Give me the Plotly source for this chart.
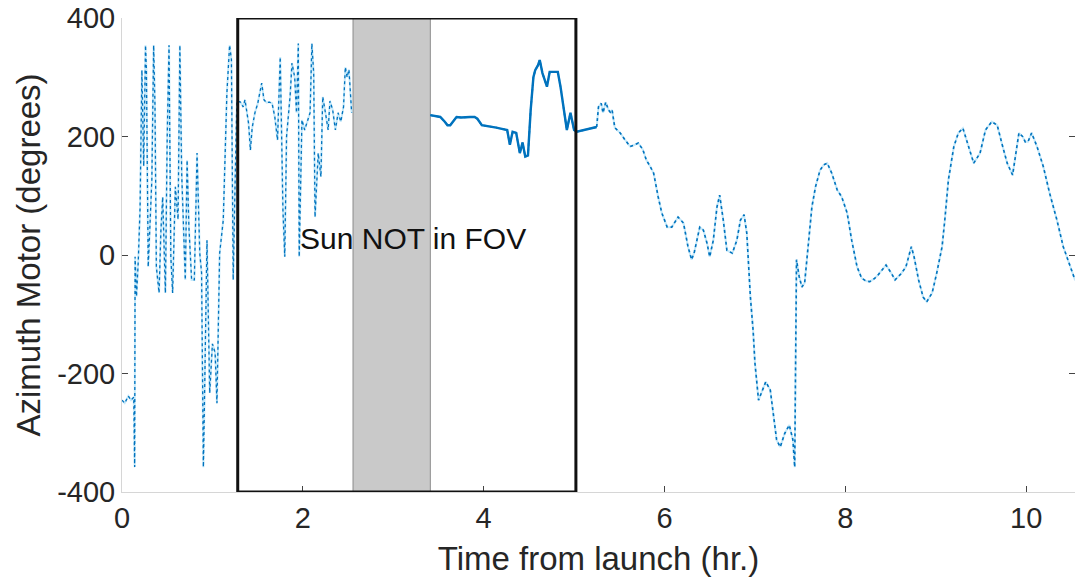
import plotly.graph_objects as go

# Azimuth motor angle vs. time from launch (hours), three recorded stretches
t_early = [0.00, 0.03, 0.07, 0.10, 0.13, 0.14, 0.145, 0.16, 0.18, 0.20, 0.22, 0.24, 0.26, 0.27,
           0.29, 0.31, 0.33, 0.35, 0.365, 0.38, 0.41, 0.43, 0.45, 0.48, 0.50, 0.52, 0.54, 0.56,
           0.59, 0.62, 0.64, 0.66, 0.70, 0.72, 0.74, 0.77, 0.80, 0.83, 0.86, 0.88, 0.90, 0.91,
           0.94, 0.97, 1.00, 1.03, 1.05, 1.08, 1.12, 1.16, 1.19, 1.21, 1.23, 1.25, 1.27,
           1.31, 1.34, 1.36, 1.40, 1.42, 1.44, 1.47, 1.50, 1.545, 1.57, 1.60, 1.63, 1.66,
           1.69, 1.72, 1.75, 1.78, 1.80, 1.82, 1.86, 1.88, 1.91, 1.93, 1.95, 1.96, 1.99,
           2.02, 2.05, 2.08, 2.10, 2.12, 2.135, 2.17, 2.20, 2.22, 2.25, 2.28, 2.30, 2.33,
           2.36, 2.39, 2.42, 2.45, 2.47, 2.49, 2.51, 2.54]
az_early = [-245, -250, -238, -245, -240, -358, -3, -70, -10, 80, 312, 150, 354, 312,
            -20, 59, 127, 354, 250, -20, -64, 40, 98, -64, 200, 354, -3, -64,
            115, 60, 354, 138, -42, 160, 47, -42, -42, 172, 3, -30, -358, -267,
            25, -233, -150, -165, -250, 3, 59, 273, 354, 330, -42, 115, 260,
            258, 250, 262, 222, 177, 215, 240, 255, 290, 262, 257, 258, 256,
            233, 194, 334, 76, -3, 200, 270, 324, 300, 240, 357, -3, 228,
            211, 225, 240, 357, 307, 64, 172, 132, 267, 240, 211, 260, 245,
            211, 240, 225, 250, 317, 300, 313, 240]

t_mid = [3.41, 3.46, 3.52, 3.57, 3.60, 3.63, 3.66, 3.70, 3.75, 3.80, 3.85, 3.90, 3.93,
         3.98, 4.03, 4.08, 4.14, 4.20, 4.26, 4.29, 4.32, 4.36, 4.40, 4.43, 4.46, 4.49,
         4.52, 4.55, 4.57, 4.60, 4.62, 4.65, 4.68, 4.70, 4.73, 4.77, 4.82, 4.85, 4.88,
         4.92, 4.96, 5.00, 5.03, 5.08, 5.13, 5.18, 5.22, 5.25]
az_mid = [236, 235, 233, 225, 219, 219, 225, 233, 232, 233, 233, 233, 230,
          219, 218, 216, 215, 213, 211, 186, 208, 206, 172, 190, 166, 168,
          245, 300, 312, 320, 329, 307, 295, 284, 309, 309, 309, 284, 250,
          211, 240, 211, 208, 210, 212, 214, 215, 216]

t_late = [5.25, 5.27, 5.30, 5.32, 5.35, 5.38, 5.40, 5.42,
          5.45, 5.51, 5.56, 5.62, 5.67, 5.71, 5.76, 5.80, 5.84, 5.88, 5.93, 5.97, 6.03,
          6.08, 6.15, 6.21, 6.26, 6.30, 6.33, 6.36, 6.39, 6.43, 6.47, 6.50, 6.54, 6.58,
          6.61, 6.65, 6.69, 6.75, 6.80, 6.84, 6.88, 6.91, 6.95, 6.98, 7.00, 7.04, 7.07,
          7.12, 7.17, 7.20, 7.24, 7.28, 7.33, 7.38, 7.42, 7.44, 7.46, 7.49, 7.52, 7.55,
          7.59, 7.63, 7.67, 7.72, 7.76, 7.80, 7.85, 7.91, 7.96, 8.02, 8.07, 8.13, 8.18,
          8.23, 8.27, 8.32, 8.36, 8.41, 8.45, 8.51, 8.55, 8.62, 8.67, 8.73, 8.76, 8.81,
          8.86, 8.90, 8.96, 9.01, 9.07, 9.10, 9.14, 9.20, 9.25, 9.30, 9.35, 9.42, 9.49,
          9.55, 9.62, 9.68, 9.73, 9.79, 9.85, 9.88, 9.92, 9.96, 9.99, 10.02, 10.06,
          10.12, 10.19, 10.26, 10.34, 10.41, 10.49, 10.54]
az_late = [216, 250, 256, 240, 258, 245, 241, 245,
           215, 206, 195, 183, 186, 189, 178, 160, 150, 138, 98, 71, 47,
           47, 64, 54, 14, -8, 5, 25, 47, 42, 20, -3, 25, 81,
           101, 59, 8, 3, 25, 59, 68, 37, -71, -127, -182, -245, -233,
           -214, -228, -267, -312, -324, -301, -287, -312, -358, -8, -37, -54, -47,
           14, 81, 115, 143, 152, 155, 138, 110, 98, 71, 25, -20, -39,
           -44, -45, -40, -34, -24, -17, -31, -42, -31, -20, 14, -3, -42,
           -71, -79, -64, -31, 14, 59, 127, 183, 206, 214, 189, 155, 172,
           211, 225, 219, 189, 155, 135, 166, 206, 200, 191, 191, 206,
           183, 149, 104, 59, 14, -20, -42]

x_ticks = [0, 2, 4, 6, 8, 10]
x_tick_text = ["0", "2", "4", "6", "8", "10"]
y_ticks = [-400, -200, 0, 200, 400]
y_tick_text = ["-400", "-200", "0", "200", "400"]

# Window where the sun was outside the field of view, and the marked interval
fov_window = (1.28, 5.02)
shade_window = (2.555, 3.41)
note_text = "Sun NOT in FOV"

FONT = "Liberation Sans, Arial, sans-serif"
BLUE = "#0072BD"
PALE = "rgba(150, 215, 245, 0.55)"

fig = go.Figure()

segments = [(t_early, az_early, 1.3), (t_mid, az_mid, 1.6), (t_late, az_late, 1.6)]
for t, az, w in segments:
    # pale underlay so the sparse samples read as a continuous trace
    fig.add_trace(go.Scatter(x=t, y=az, mode="lines",
                             line=dict(color=PALE, width=2),
                             hoverinfo="skip", showlegend=False))
    fig.add_trace(go.Scatter(x=t, y=az, mode="lines",
                             line=dict(color=BLUE, width=w, dash="dot"),
                             showlegend=False))

# denser, steadier stretch after the gap
fig.add_trace(go.Scatter(x=t_mid, y=az_mid, mode="lines",
                         line=dict(color=BLUE, width=2.4),
                         showlegend=False))

fig.add_shape(type="rect", xref="x", yref="y",
              x0=shade_window[0], x1=shade_window[1], y0=-400, y1=400,
              fillcolor="#c9c9c9", line=dict(color="#8c8c8c", width=1),
              layer="below")
fig.add_shape(type="rect", xref="x", yref="y",
              x0=fov_window[0], x1=fov_window[1], y0=-400, y1=400,
              fillcolor="rgba(0,0,0,0)", line=dict(color="#111111", width=3),
              layer="above")

fig.add_annotation(x=1.95, y=28, xref="x", yref="y", text=note_text,
                   showarrow=False, xanchor="left", yanchor="middle",
                   font=dict(family=FONT, size=30, color="#111111"))

axis_common = dict(
    showgrid=False, zeroline=False,
    showline=True, linecolor="#d6d6d6", linewidth=1,
    ticks="inside", ticklen=6, tickcolor="#444444", tickwidth=1,
    tickfont=dict(family=FONT, size=29, color="#262626"),
)

fig.update_xaxes(range=[0, 10.54], tickvals=x_ticks, ticktext=x_tick_text,
                 title=dict(text="Time from launch (hr.)",
                            font=dict(family=FONT, size=33, color="#262626"),
                            standoff=14),
                 **axis_common)
fig.update_yaxes(range=[-400, 400], tickvals=y_ticks, ticktext=y_tick_text,
                 mirror="ticks",
                 title=dict(text="Azimuth Motor (degrees)",
                            font=dict(family=FONT, size=33, color="#262626"),
                            standoff=6),
                 **axis_common)

fig.update_layout(
    width=1075, height=582,
    margin=dict(l=122, r=0, t=18, b=90),
    paper_bgcolor="white", plot_bgcolor="white",
    showlegend=False,
)

fig.write_html("out.html")
